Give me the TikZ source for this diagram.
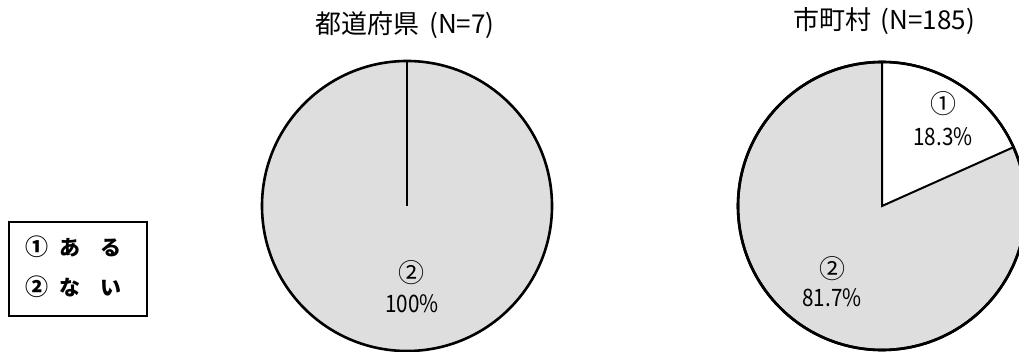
\documentclass[tikz,border=0pt]{standalone}
\usepackage{fontspec}
\setmainfont{Noto Sans CJK JP}
\usetikzlibrary{positioning}
\newcommand{\narrow}[1]{\scalebox{0.86}[1]{#1}}
\tikzset{
x=1pt, y=1pt, % one unit is one pixel of the page
pie/.style={draw=black, line width=2.6pt, fill=black!13}, % the disc of each chart
cut/.style={draw=black, line width=2pt}, % the radius between two shares
title/.style={font=\fontsize{26}{28}\selectfont, inner sep=0pt},
numeral/.style={font=\fontsize{26}{28}\selectfont, inner sep=0pt}, % circled number in a chart
share/.style={font=\fontsize{24}{26}\selectfont, inner sep=0pt},
key/.style={font=\fontsize{21}{22}\selectfont\bfseries, inner sep=0pt, anchor=west},
}

\begin{document}
\begin{tikzpicture}
	\useasboundingbox (0,0) rectangle (1019,351);
	\clip (0,0) rectangle (1019,351);
	% legend
	\draw[line width=1.4pt] (9,35) rectangle (147,129);
	\node[key] (yes) at (25.5,104) {{\fontsize{23}{23}\selectfont ①}\hspace{11pt}あ\hspace{20pt}る};
	\node[key] (no) at (25.5,64) {{\fontsize{23}{23}\selectfont ②}\hspace{11pt}な\hspace{20pt}い};
	% prefectures
	\coordinate (lc) at (407,145);
	\draw[pie] (lc) circle[radius=145];
	\draw[cut] (lc) -- ++(90:145);
	\node[title] (ltitle) at (405,326) {都道府県\hspace{4pt} (N=7)};
	\node[numeral] (l2) at (411,78) {②};
	\node[share] (l2p) at (412,47) {\narrow{100\%}};
	% municipalities
	\coordinate (rc) at (882,145);
	\draw[pie] (rc) circle[radius=144];
	\draw[cut, fill=white] (rc) -- ++(90:144) arc[start angle=90, end angle=24.1, radius=144] -- cycle;
	\draw[line width=2.6pt] (rc) circle[radius=144];
	\node[title] (rtitle) at (884,330) {市町村\hspace{4pt} (N=185)};
	\node[numeral] (r1) at (943,247) {①};
	\node[share] (r1p) at (943,214) {\narrow{18.3\%}};
	\node[numeral] (r2) at (832,82) {②};
	\node[share] (r2p) at (832,53) {\narrow{81.7\%}};
\end{tikzpicture}
\end{document}
